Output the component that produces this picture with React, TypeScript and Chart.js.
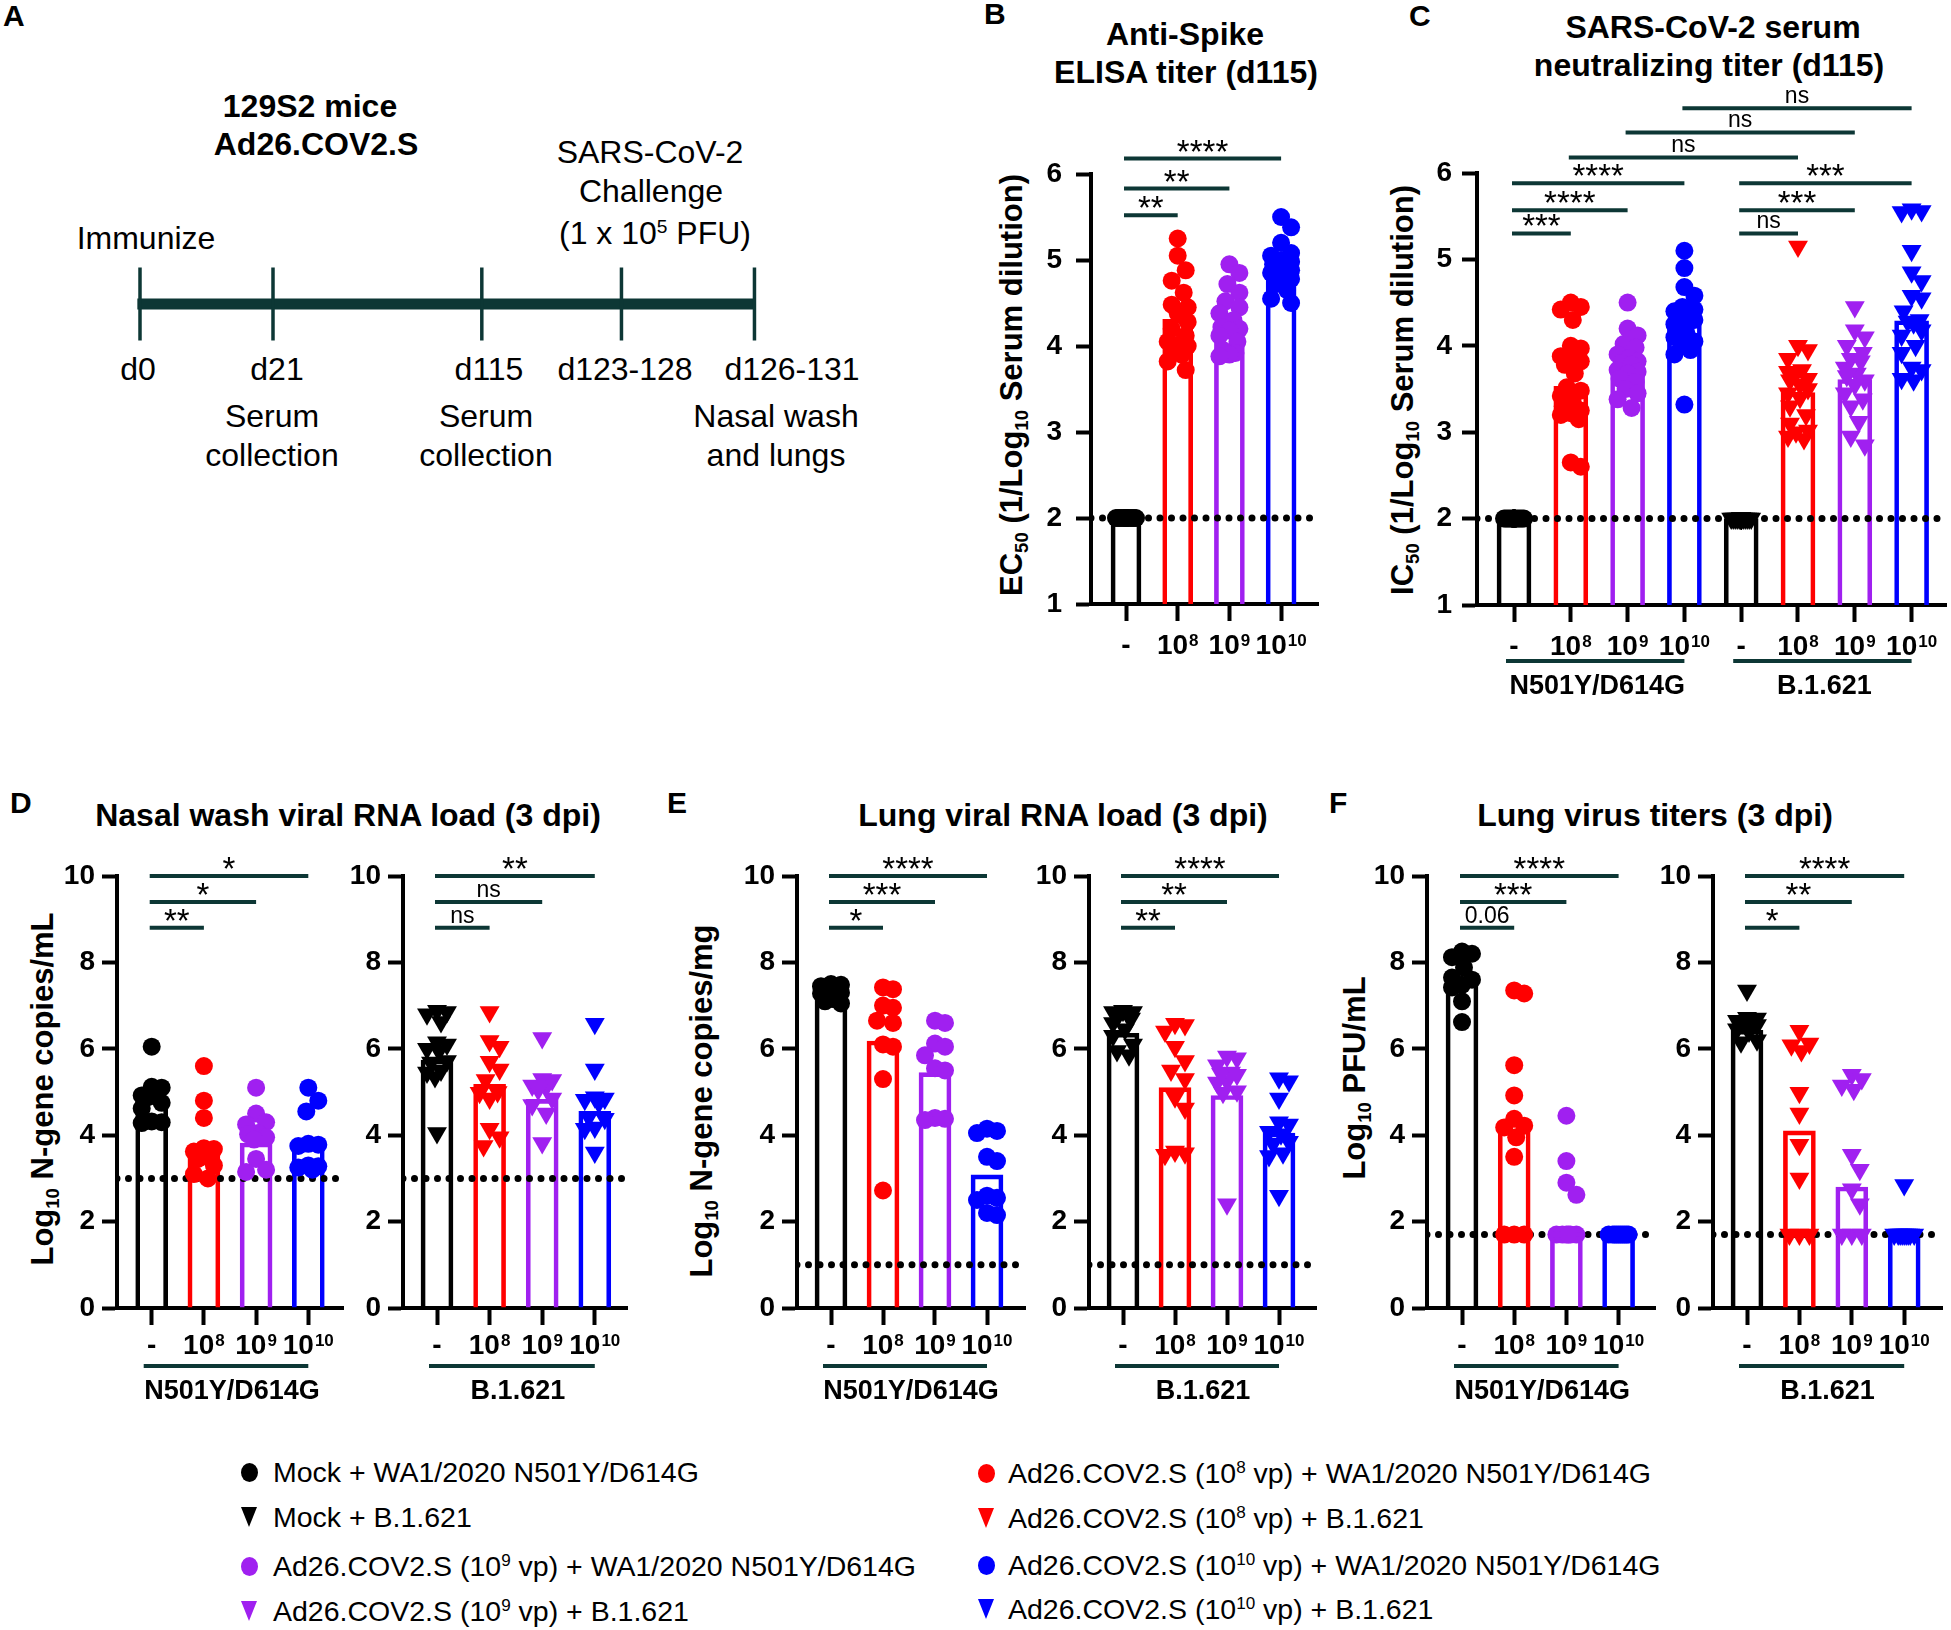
import React, { useEffect, useRef } from 'react';
import { Chart, registerables } from 'chart.js';

Chart.register(...registerables);

const FAM = "'Liberation Sans', Arial, Helvetica, sans-serif";
Chart.defaults.font.family = FAM;
const TEAL = '#0d3735';
const BLACK = '#000000';
const RED = '#ff0000';
const PURPLE = '#a020f0';
const BLUE = '#0000ff';
const GROUP_COLORS = [BLACK, RED, PURPLE, BLUE];

// ---------------- data ----------------
const doseTicks = ['-', '10^8', '10^9', '10^10'];
const variants = ['N501Y/D614G', 'B.1.621'];

// B: Anti-Spike ELISA titer (d115)
const elisaMock = [2, 2, 2, 2, 2, 2, 2, 2, 2, 2, 2, 2, 2, 2, 2, 2, 2, 2, 2, 2];
const elisa1e8 = [5.25, 5.05, 4.88, 4.76, 4.62, 4.48, 4.45, 4.38, 4.28, 4.2, 4.12, 4.05, 4.02, 4.0, 3.98, 3.9, 3.82, 3.72];
const elisa1e9 = [4.95, 4.85, 4.72, 4.62, 4.52, 4.45, 4.38, 4.3, 4.22, 4.2, 4.18, 4.12, 4.05, 3.95, 3.92, 3.9, 3.88];
const elisa1e10 = [5.5, 5.38, 5.2, 5.08, 5.05, 5.0, 4.98, 4.95, 4.92, 4.9, 4.88, 4.85, 4.82, 4.78, 4.72, 4.65, 4.55, 4.5];
const elisaBars = [2.0, 4.31, 4.28, 4.9];
const elisaLod = 2;
const elisaSig = ['**', '**', '****'];

// C: neutralizing titer (d115)
const neutN501Mock = [2, 2, 2, 2, 2, 2, 2, 2, 2, 2, 2, 2, 2, 2, 2, 2, 2, 2, 2, 2];
const neutN5011e8 = [4.5, 4.45, 4.42, 4.3, 4.0, 3.97, 3.88, 3.85, 3.82, 3.78, 3.68, 3.52, 3.48, 3.42, 3.35, 3.3, 3.25, 3.22, 3.2, 3.15, 2.65, 2.6];
const neutN5011e9 = [4.5, 4.2, 4.12, 4.02, 3.98, 3.9, 3.86, 3.82, 3.8, 3.78, 3.72, 3.7, 3.68, 3.62, 3.58, 3.5, 3.45, 3.38, 3.28];
const neutN5011e10 = [5.1, 4.9, 4.68, 4.58, 4.45, 4.42, 4.4, 4.38, 4.35, 4.3, 4.25, 4.15, 4.1, 4.05, 4.0, 3.95, 3.9, 3.32];
const neutB1621Mock = [2, 2, 2, 2, 2, 2, 2, 2, 2, 2, 2, 2, 2, 2, 2, 2, 2, 2, 2, 2];
const neutB16211e8 = [5.15, 4.0, 3.95, 3.85, 3.72, 3.7, 3.68, 3.62, 3.6, 3.55, 3.5, 3.45, 3.4, 3.3, 3.2, 3.1, 3.02, 3.0, 2.95, 2.92];
const neutB16211e9 = [4.45, 4.18, 4.1, 4.0, 3.92, 3.85, 3.82, 3.75, 3.68, 3.65, 3.6, 3.55, 3.45, 3.38, 3.3, 3.12, 2.95, 2.85];
const neutB16211e10 = [5.58, 5.56, 5.55, 5.1, 4.85, 4.75, 4.58, 4.55, 4.4, 4.3, 4.28, 4.26, 4.18, 4.12, 4.0, 3.92, 3.75, 3.72, 3.62, 3.6];
const neutBars = [2.0, 3.53, 3.74, 4.29, 2.0, 3.46, 3.61, 4.29];
const neutLod = 2;
const neutSigN501 = ['***', '****', '****'];
const neutSigCross = ['ns', 'ns', 'ns'];
const neutSigB1621 = ['ns', '***', '***'];

// D: Nasal wash viral RNA load (3 dpi)
const nasalN501Mock = [6.05, 5.12, 5.1, 4.92, 4.9, 4.88, 4.75, 4.62, 4.32, 4.3, 4.28];
const nasalN5011e8 = [5.6, 4.8, 4.4, 3.7, 3.68, 3.62, 3.5, 3.45, 3.3, 3.1, 3.0];
const nasalN5011e9 = [5.1, 4.5, 4.3, 4.25, 4.05, 4.02, 3.95, 3.9, 3.45, 3.2, 3.15];
const nasalN5011e10 = [5.1, 4.8, 4.55, 3.8, 3.78, 3.75, 3.3, 3.28, 3.25, 3.2];
const nasalN501Bars = [4.85, 3.6, 3.82, 3.77];
const nasalB1621Mock = [6.88, 6.85, 6.8, 6.62, 6.15, 6.1, 6.0, 5.95, 5.72, 5.68, 5.5, 5.45, 5.35, 4.05];
const nasalB16211e8 = [6.85, 6.18, 6.05, 5.7, 5.52, 5.28, 5.0, 4.98, 4.85, 4.15, 3.95, 3.75];
const nasalB16211e9 = [6.25, 5.3, 5.28, 5.15, 5.12, 5.05, 4.85, 4.7, 4.5, 3.82];
const nasalB16211e10 = [6.58, 5.52, 4.88, 4.85, 4.82, 4.75, 4.42, 4.38, 4.18, 4.15, 3.6];
const nasalB1621Bars = [5.74, 5.18, 4.83, 4.55];
const nasalLod = 3;
const nasalSigN501 = ['**', '*', '*'];
const nasalSigB1621 = ['ns', 'ns', '**'];

// E: Lung viral RNA load (3 dpi)
const lungN501Mock = [7.5, 7.48, 7.45, 7.4, 7.35, 7.3, 7.28, 7.15, 7.1, 7.05];
const lungN5011e8 = [7.42, 7.38, 7.0, 6.95, 6.65, 6.6, 6.1, 6.05, 5.3, 2.72];
const lungN5011e9 = [6.65, 6.6, 6.12, 6.05, 5.85, 5.55, 5.5, 4.4, 4.38, 4.35];
const lungN5011e10 = [4.15, 4.1, 4.05, 3.5, 3.4, 2.6, 2.55, 2.5, 2.2, 2.15];
const lungN501Bars = [7.31, 6.18, 5.45, 3.08];
const lungB1621Mock = [6.88, 6.85, 6.85, 6.82, 6.8, 6.7, 6.6, 6.45, 6.3, 6.1, 5.95, 5.85];
const lungB16211e8 = [6.58, 6.55, 6.4, 6.05, 5.72, 5.5, 5.3, 4.88, 4.62, 3.62, 3.58, 3.55];
const lungB16211e9 = [5.82, 5.78, 5.62, 5.45, 5.42, 5.4, 5.25, 5.22, 5.02, 4.98, 2.4];
const lungB16211e10 = [5.32, 5.25, 4.85, 4.3, 4.25, 4.08, 4.02, 3.85, 3.8, 3.58, 3.52, 2.6];
const lungB1621Bars = [6.36, 5.1, 4.92, 4.05];
const lungLod = 1;
const lungSigN501 = ['*', '***', '****'];
const lungSigB1621 = ['**', '**', '****'];

// F: Lung virus titers (3 dpi)
const pfuN501Mock = [8.25, 8.2, 8.12, 7.88, 7.65, 7.6, 7.48, 7.42, 7.1, 6.62];
const pfuN5011e8 = [7.35, 7.28, 5.62, 4.92, 4.38, 4.22, 4.18, 3.95, 3.5, 1.7, 1.7, 1.7];
const pfuN5011e9 = [4.45, 3.4, 2.9, 2.62, 1.7, 1.7, 1.7, 1.7, 1.7, 1.7];
const pfuN5011e10 = [1.7, 1.7, 1.7, 1.7, 1.7, 1.7, 1.7, 1.7, 1.7, 1.7];
const pfuN501Bars = [7.57, 4.14, 1.75, 1.7];
const pfuB1621Mock = [7.35, 6.72, 6.7, 6.65, 6.62, 6.6, 6.55, 6.45, 6.4, 6.2, 6.15];
const pfuB16211e8 = [6.42, 6.12, 6.08, 5.95, 4.98, 4.5, 3.78, 3.0, 1.7, 1.7, 1.7];
const pfuB16211e9 = [5.4, 5.3, 5.15, 5.05, 3.55, 3.2, 2.75, 2.4, 1.7, 1.7, 1.7];
const pfuB16211e10 = [2.85, 1.7, 1.7, 1.7, 1.7, 1.7, 1.7, 1.7, 1.7, 1.7];
const pfuB1621Bars = [6.43, 4.1, 2.8, 1.7];
const pfuLod = 1.7;
const pfuSigN501 = ['0.06', '***', '****'];
const pfuSigB1621 = ['*', '**', '****'];

// A: timeline
const timelineLabels = ['d0', 'd21', 'd115', 'd123-128', 'd126-131'];

// ---------------- layout ----------------
const Y_AXIS_W = 70;
const PAD_TOP = 125;
const PAD_RIGHT = 5;
const X_AXIS_H = 20;
const PAD_BOTTOM = 95;
const BR_B = [5.52, 5.83, 6.18];
const BR_C = [5.3, 5.57, 5.88];
const BR_C_CROSS = [6.18, 6.47, 6.75];
const BR_DEF = [8.8, 9.4, 10.0];

type Area = { left: number; top: number; right: number; bottom: number; cat0: number; step: number };
type Bracket = { from: number; to: number; y: number; label: string };
type GroupLine = { from: number; to: number; text: string };
type DotPlot = {
  area: Area;
  groups: number[][];
  means: number[];
  shapes: string[];
  colors: string[];
  yMin: number;
  yMax: number;
  yStep: number;
  lod: number;
  brackets: Bracket[];
  xLabels: string[];
  groupLines: GroupLine[];
  barW: number;
  tickPad: number;
  labelBase: number;
  groupLineOff: number;
  groupTextOff: number;
  groupTextShift: number;
};

function rectOf(a: Area) {
  return {
    x: a.left - Y_AXIS_W,
    y: a.top - PAD_TOP,
    w: a.right - a.left + Y_AXIS_W + PAD_RIGHT,
    h: a.bottom - a.top + PAD_TOP + X_AXIS_H + PAD_BOTTOM,
  };
}

// beeswarm-like horizontal spreading (pixel offsets), capped width
function swarm(values: number[], pxPerUnit: number, diam: number, maxHalf: number): number[] {
  const idx = values.map((_, i) => i).sort((a, b) => values[b] - values[a]);
  const cands: number[] = [0];
  for (let s = 2; s <= maxHalf + 1e-6; s += 2) cands.push(s, -s);
  const sep = diam * 0.88;
  const placed: { x: number; y: number }[] = [];
  const out = new Array(values.length).fill(0);
  for (const i of idx) {
    const y = values[i] * pxPerUnit;
    let best = 0;
    let bestScore = -Infinity;
    for (const c of cands) {
      let minD = Infinity;
      for (const p of placed) {
        const d = Math.hypot(c - p.x, y - p.y);
        if (d < minD) minD = d;
      }
      if (minD >= sep) {
        best = c;
        break;
      }
      if (minD > bestScore + 0.01) {
        bestScore = minD;
        best = c;
      }
    }
    placed.push({ x: best, y });
    out[i] = best;
  }
  return out;
}

function drawSup(ctx: CanvasRenderingContext2D, label: string, cx: number, baseline: number) {
  const [base, exp] = label.split('^');
  const size = 28;
  const supSize = 17;
  ctx.font = `bold ${size}px ${FAM}`;
  const w1 = ctx.measureText(base).width;
  let w2 = 0;
  if (exp) {
    ctx.font = `bold ${supSize}px ${FAM}`;
    w2 = ctx.measureText(exp).width + 1;
  }
  const x0 = cx - (w1 + w2) / 2;
  ctx.textAlign = 'left';
  ctx.textBaseline = 'alphabetic';
  ctx.font = `bold ${size}px ${FAM}`;
  ctx.fillText(base, x0, baseline);
  if (exp) {
    ctx.font = `bold ${supSize}px ${FAM}`;
    ctx.fillText(exp, x0 + w1 + 1, baseline - 8);
  }
}

const decoPlugin = {
  id: 'deco',
  afterDraw(chart: any, _args: any, o: any) {
    if (!o || !o.xLabels) return;
    const { ctx, chartArea } = chart;
    const xs = chart.scales.x;
    const ys = chart.scales.y;
    ctx.save();
    ctx.fillStyle = '#000';
    o.xLabels.forEach((lab: string, i: number) => drawSup(ctx, lab, xs.getPixelForValue(i), chartArea.bottom + o.labelBase));
    ctx.strokeStyle = TEAL;
    ctx.lineWidth = 4;
    ctx.lineCap = 'butt';
    o.groupLines.forEach((g: GroupLine) => {
      const x1 = xs.getPixelForValue(g.from) - 8;
      const x2 = xs.getPixelForValue(g.to);
      const yl = chartArea.bottom + o.groupLineOff;
      ctx.beginPath();
      ctx.moveTo(x1, yl);
      ctx.lineTo(x2, yl);
      ctx.stroke();
      ctx.font = `bold 27px ${FAM}`;
      ctx.textAlign = 'center';
      ctx.textBaseline = 'alphabetic';
      ctx.fillText(g.text, (x1 + x2) / 2 + o.groupTextShift, chartArea.bottom + o.groupTextOff);
    });
    o.brackets.forEach((b: Bracket) => {
      const x1 = xs.getPixelForValue(b.from) - 2;
      const x2 = xs.getPixelForValue(b.to);
      const y = ys.getPixelForValue(b.y);
      ctx.beginPath();
      ctx.moveTo(x1, y);
      ctx.lineTo(x2, y);
      ctx.stroke();
      const stars = /^\*+$/.test(b.label);
      ctx.font = stars ? `33px ${FAM}` : `23px ${FAM}`;
      ctx.textAlign = 'center';
      ctx.textBaseline = 'alphabetic';
      ctx.fillText(b.label, (x1 + x2) / 2, stars ? y + 4 : y - 5);
    });
    ctx.restore();
  },
};

function buildConfig(s: DotPlot) {
  const a = s.area;
  const xMin = (a.left - a.cat0) / a.step;
  const xMax = (a.right - a.cat0) / a.step;
  const pxPerUnit = (a.bottom - a.top) / (s.yMax - s.yMin);
  const datasets: any[] = [];
  s.groups.forEach((vals, i) => {
    const tri = s.shapes[i] === 'triangle';
    const offs = swarm(vals, pxPerUnit, tri ? 19 : 18, 11);
    datasets.push({
      type: 'scatter',
      data: vals.map((v, k) => ({ x: i + offs[k] / a.step, y: v })),
      pointStyle: tri ? 'triangle' : 'circle',
      pointRotation: tri ? 180 : 0,
      pointRadius: tri ? 11.5 : 9,
      pointHoverRadius: tri ? 11.5 : 9,
      pointBackgroundColor: s.colors[i],
      pointBorderColor: s.colors[i],
      pointBorderWidth: 0,
      clip: false,
      order: 1,
    });
  });
  datasets.push({
    type: 'line',
    data: [
      { x: xMin, y: s.lod },
      { x: xMax, y: s.lod },
    ],
    borderColor: '#000',
    borderWidth: 7,
    borderDash: [0, 11.5],
    borderCapStyle: 'round',
    pointRadius: 0,
    order: 2,
  });
  datasets.push({
    type: 'bar',
    data: s.means.map((m, i) => ({ x: i, y: [s.yMin, m] })),
    backgroundColor: 'rgba(255,255,255,0)',
    borderColor: s.colors,
    borderWidth: 4,
    borderSkipped: 'bottom',
    barThickness: s.barW,
    order: 3,
  });
  return {
    type: 'scatter',
    data: { datasets },
    plugins: [decoPlugin],
    options: {
      animation: false,
      responsive: false,
      maintainAspectRatio: false,
      devicePixelRatio: 1,
      events: [],
      layout: { autoPadding: false, padding: { left: 0, top: PAD_TOP, right: PAD_RIGHT, bottom: PAD_BOTTOM } },
      plugins: {
        legend: { display: false },
        tooltip: { enabled: false },
        deco: {
          xLabels: s.xLabels,
          groupLines: s.groupLines,
          brackets: s.brackets,
          labelBase: s.labelBase,
          groupLineOff: s.groupLineOff,
          groupTextOff: s.groupTextOff,
          groupTextShift: s.groupTextShift,
        },
      },
      scales: {
        x: {
          type: 'linear',
          min: xMin,
          max: xMax,
          offset: false,
          afterBuildTicks: (sc: any) => {
            sc.ticks = s.xLabels.map((_, i) => ({ value: i }));
          },
          afterFit: (sc: any) => {
            sc.height = X_AXIS_H;
          },
          ticks: { display: false },
          grid: { display: true, offset: false, drawOnChartArea: false, drawTicks: true, tickLength: 17, tickWidth: 4, tickColor: '#000' },
          border: { display: true, color: '#000', width: 4 },
        },
        y: {
          type: 'linear',
          min: s.yMin,
          max: s.yMax,
          beginAtZero: false,
          afterFit: (sc: any) => {
            sc.width = Y_AXIS_W;
          },
          ticks: { stepSize: s.yStep, color: '#000', padding: s.tickPad, font: { family: FAM, size: 28, weight: 'bold' } },
          grid: { display: true, drawOnChartArea: false, drawTicks: true, tickLength: 15, tickWidth: 4, tickColor: '#000' },
          border: { display: true, color: '#000', width: 4 },
        },
      },
    },
  };
}

const CIRC4 = ['circle', 'circle', 'circle', 'circle'];
const TRI4 = ['triangle', 'triangle', 'triangle', 'triangle'];

function sigBrackets(sig: string[], heights: number[], from: number): Bracket[] {
  return sig.map((t, k) => ({ from, to: from + k + 1, y: heights[k], label: t }));
}

const DEF_COMMON = {
  yMin: 0,
  yMax: 10,
  yStep: 2,
  barW: 32,
  tickPad: 7,
  labelBase: 46,
  groupLineOff: 58,
  groupTextOff: 91,
  groupTextShift: 6,
  xLabels: doseTicks,
};

const cfgB: DotPlot = {
  area: { left: 1091, top: 174, right: 1318, bottom: 604, cat0: 1126, step: 51.7 },
  groups: [elisaMock, elisa1e8, elisa1e9, elisa1e10],
  means: elisaBars,
  shapes: CIRC4,
  colors: GROUP_COLORS,
  yMin: 1,
  yMax: 6,
  yStep: 1,
  lod: elisaLod,
  brackets: sigBrackets(elisaSig, BR_B, 0),
  xLabels: doseTicks,
  groupLines: [],
  barW: 30,
  tickPad: 14,
  labelBase: 50,
  groupLineOff: 56,
  groupTextOff: 89,
  groupTextShift: 0,
};

const cfgC: DotPlot = {
  area: { left: 1477, top: 173, right: 1946, bottom: 605, cat0: 1514, step: 56.8 },
  groups: [neutN501Mock, neutN5011e8, neutN5011e9, neutN5011e10, neutB1621Mock, neutB16211e8, neutB16211e9, neutB16211e10],
  means: neutBars,
  shapes: [...CIRC4, ...TRI4],
  colors: [...GROUP_COLORS, ...GROUP_COLORS],
  yMin: 1,
  yMax: 6,
  yStep: 1,
  lod: neutLod,
  brackets: [
    ...sigBrackets(neutSigN501, BR_C, 0),
    ...neutSigCross.map((t, k) => ({ from: k + 1, to: k + 5, y: BR_C_CROSS[k], label: t })),
    ...sigBrackets(neutSigB1621, BR_C, 4),
  ],
  xLabels: [...doseTicks, ...doseTicks],
  groupLines: [
    { from: 0, to: 3, text: variants[0] },
    { from: 4, to: 7, text: variants[1] },
  ],
  barW: 34,
  tickPad: 10,
  labelBase: 50,
  groupLineOff: 56,
  groupTextOff: 89,
  groupTextShift: 2,
};

const cfgDL: DotPlot = {
  ...DEF_COMMON,
  area: { left: 117, top: 876, right: 343, bottom: 1308, cat0: 151.7, step: 52.2 },
  groups: [nasalN501Mock, nasalN5011e8, nasalN5011e9, nasalN5011e10],
  means: nasalN501Bars,
  shapes: CIRC4,
  colors: GROUP_COLORS,
  lod: nasalLod,
  brackets: sigBrackets(nasalSigN501, BR_DEF, 0),
  groupLines: [{ from: 0, to: 3, text: variants[0] }],
};
const cfgDR: DotPlot = {
  ...DEF_COMMON,
  area: { left: 403, top: 876, right: 627, bottom: 1308, cat0: 437, step: 52.6 },
  groups: [nasalB1621Mock, nasalB16211e8, nasalB16211e9, nasalB16211e10],
  means: nasalB1621Bars,
  shapes: TRI4,
  colors: GROUP_COLORS,
  lod: nasalLod,
  brackets: sigBrackets(nasalSigB1621, BR_DEF, 0),
  groupLines: [{ from: 0, to: 3, text: variants[1] }],
};
const cfgEL: DotPlot = {
  ...DEF_COMMON,
  area: { left: 797, top: 876, right: 1025, bottom: 1308, cat0: 831, step: 52 },
  groups: [lungN501Mock, lungN5011e8, lungN5011e9, lungN5011e10],
  means: lungN501Bars,
  shapes: CIRC4,
  colors: GROUP_COLORS,
  lod: lungLod,
  brackets: sigBrackets(lungSigN501, BR_DEF, 0),
  groupLines: [{ from: 0, to: 3, text: variants[0] }],
};
const cfgER: DotPlot = {
  ...DEF_COMMON,
  area: { left: 1089, top: 876, right: 1316, bottom: 1308, cat0: 1123, step: 52 },
  groups: [lungB1621Mock, lungB16211e8, lungB16211e9, lungB16211e10],
  means: lungB1621Bars,
  shapes: TRI4,
  colors: GROUP_COLORS,
  lod: lungLod,
  brackets: sigBrackets(lungSigB1621, BR_DEF, 0),
  groupLines: [{ from: 0, to: 3, text: variants[1] }],
};
const cfgFL: DotPlot = {
  ...DEF_COMMON,
  area: { left: 1427, top: 876, right: 1655, bottom: 1308, cat0: 1462, step: 52.2 },
  groups: [pfuN501Mock, pfuN5011e8, pfuN5011e9, pfuN5011e10],
  means: pfuN501Bars,
  shapes: CIRC4,
  colors: GROUP_COLORS,
  lod: pfuLod,
  brackets: sigBrackets(pfuSigN501, BR_DEF, 0),
  groupLines: [{ from: 0, to: 3, text: variants[0] }],
};
const cfgFR: DotPlot = {
  ...DEF_COMMON,
  area: { left: 1713, top: 876, right: 1942, bottom: 1308, cat0: 1747, step: 52.4 },
  groups: [pfuB1621Mock, pfuB16211e8, pfuB16211e9, pfuB16211e10],
  means: pfuB1621Bars,
  shapes: TRI4,
  colors: GROUP_COLORS,
  lod: pfuLod,
  brackets: sigBrackets(pfuSigB1621, BR_DEF, 0),
  groupLines: [{ from: 0, to: 3, text: variants[1] }],
};

function DotChart({ cfg }: { cfg: DotPlot }) {
  const ref = useRef<HTMLCanvasElement>(null);
  const r = rectOf(cfg.area);
  useEffect(() => {
    const chart = new Chart(ref.current as HTMLCanvasElement, buildConfig(cfg) as any);
    return () => chart.destroy();
  }, [cfg]);
  return <canvas ref={ref} width={r.w} height={r.h} style={{ position: 'absolute', left: r.x, top: r.y, width: r.w, height: r.h }} />;
}

// timeline (schematic spacing, not to scale)
const TL_SLOTS = [0, 1, 2.57, 3.62, 4.62];
const TL_X0 = 140;
const TL_PX = 133;
const TL_RECT = { x: 100, y: 254, w: 700, h: 100 };

function Timeline() {
  const ref = useRef<HTMLCanvasElement>(null);
  useEffect(() => {
    const xMin = (TL_RECT.x - TL_X0) / TL_PX;
    const xMax = (TL_RECT.x + TL_RECT.w - TL_X0) / TL_PX;
    const chart = new Chart(ref.current as HTMLCanvasElement, {
      type: 'scatter',
      data: {
        datasets: [
          {
            type: 'scatter',
            data: TL_SLOTS.map((s) => ({ x: s, y: 0 })),
            pointStyle: 'line',
            pointRotation: 90,
            pointRadius: 36.5,
            pointBorderColor: TEAL,
            pointBorderWidth: 3.5,
            clip: false,
            order: 1,
          } as any,
          {
            type: 'line',
            data: [
              { x: TL_SLOTS[0] - 0.02, y: 0 },
              { x: TL_SLOTS[TL_SLOTS.length - 1] + 0.01, y: 0 },
            ],
            borderColor: TEAL,
            borderWidth: 11,
            pointRadius: 0,
            clip: false,
            order: 2,
          } as any,
        ],
      },
      options: {
        animation: false,
        responsive: false,
        devicePixelRatio: 1,
        events: [],
        layout: { autoPadding: false, padding: 0 },
        plugins: { legend: { display: false }, tooltip: { enabled: false } },
        scales: {
          x: { type: 'linear', display: false, min: xMin, max: xMax },
          y: { type: 'linear', display: false, min: -1, max: 1 },
        },
      } as any,
    });
    return () => chart.destroy();
  }, []);
  return (
    <canvas
      ref={ref}
      width={TL_RECT.w}
      height={TL_RECT.h}
      style={{ position: 'absolute', left: TL_RECT.x, top: TL_RECT.y, width: TL_RECT.w, height: TL_RECT.h }}
    />
  );
}

// ---------------- text helpers ----------------
function T({ x, y, size, bold, align = 'center', children }: any) {
  const tx = align === 'center' ? '-50%' : align === 'right' ? '-100%' : '0';
  return (
    <div
      style={{
        position: 'absolute',
        left: x,
        top: y - 0.49 * size,
        fontSize: size,
        lineHeight: `${size}px`,
        fontWeight: bold ? 'bold' : 'normal',
        whiteSpace: 'nowrap',
        transform: `translateX(${tx})`,
      }}
    >
      {children}
    </div>
  );
}

function RotLabel({ x, y, children }: any) {
  return (
    <div style={{ position: 'absolute', left: x, top: y, width: 0, height: 0 }}>
      <div
        style={{
          position: 'absolute',
          left: 0,
          top: 0,
          transform: 'translate(-50%,-50%) rotate(-90deg)',
          whiteSpace: 'nowrap',
          fontSize: 31,
          lineHeight: '31px',
          fontWeight: 'bold',
        }}
      >
        {children}
      </div>
    </div>
  );
}

const Sub = ({ children }: any) => <span style={{ fontSize: '0.6em', position: 'relative', top: '0.3em' }}>{children}</span>;
const Sup = ({ children }: any) => <span style={{ fontSize: '0.6em', position: 'relative', top: '-0.6em' }}>{children}</span>;

// ---------------- legend ----------------
const legendEntries = [
  { col: 0, row: 0, color: BLACK, shape: 'circle', dose: '', challenge: 'WA1/2020 N501Y/D614G' },
  { col: 0, row: 1, color: BLACK, shape: 'triangle', dose: '', challenge: 'B.1.621' },
  { col: 0, row: 2, color: PURPLE, shape: 'circle', dose: '9', challenge: 'WA1/2020 N501Y/D614G' },
  { col: 0, row: 3, color: PURPLE, shape: 'triangle', dose: '9', challenge: 'B.1.621' },
  { col: 1, row: 0, color: RED, shape: 'circle', dose: '8', challenge: 'WA1/2020 N501Y/D614G' },
  { col: 1, row: 1, color: RED, shape: 'triangle', dose: '8', challenge: 'B.1.621' },
  { col: 1, row: 2, color: BLUE, shape: 'circle', dose: '10', challenge: 'WA1/2020 N501Y/D614G' },
  { col: 1, row: 3, color: BLUE, shape: 'triangle', dose: '10', challenge: 'B.1.621' },
];
const LEG_MARK_X = [249, 986];
const LEG_TEXT_X = [273, 1008];
const LEG_ROW_Y = [
  [1472, 1517, 1566, 1611],
  [1473, 1518, 1565, 1609],
];

function Legend() {
  return (
    <>
      {legendEntries.map((e, i) => {
        const mx = LEG_MARK_X[e.col];
        const my = LEG_ROW_Y[e.col][e.row];
        const marker =
          e.shape === 'circle' ? (
            <div
              key={`m${i}`}
              style={{ position: 'absolute', left: mx - 8.5, top: my - 9.5, width: 17, height: 19, borderRadius: '50%', background: e.color }}
            />
          ) : (
            <div
              key={`m${i}`}
              style={{
                position: 'absolute',
                left: mx - 8,
                top: my - 10,
                width: 0,
                height: 0,
                borderLeft: '8px solid transparent',
                borderRight: '8px solid transparent',
                borderTop: `20px solid ${e.color}`,
              }}
            />
          );
        return (
          <React.Fragment key={i}>
            {marker}
            <T x={LEG_TEXT_X[e.col]} y={my} size={28.5} align="left">
              {e.dose === '' ? (
                <>Mock + {e.challenge}</>
              ) : (
                <>
                  Ad26.COV2.S (10<Sup>{e.dose}</Sup> vp) + {e.challenge}
                </>
              )}
            </T>
          </React.Fragment>
        );
      })}
    </>
  );
}

const TL_LABEL_X = [138, 277, 489, 625, 792];

export default function App() {
  return (
    <div
      style={{
        position: 'absolute',
        left: 0,
        top: 0,
        width: 1951,
        height: 1630,
        overflow: 'hidden',
        background: '#ffffff',
        fontFamily: FAM,
        color: '#000',
      }}
    >
      {/* panel letters */}
      <T x={3} y={16} size={30} bold align="left">A</T>
      <T x={984} y={14} size={30} bold align="left">B</T>
      <T x={1409} y={16} size={30} bold align="left">C</T>
      <T x={10} y={803} size={30} bold align="left">D</T>
      <T x={667} y={803} size={30} bold align="left">E</T>
      <T x={1329} y={803} size={30} bold align="left">F</T>

      {/* Panel A texts */}
      <T x={310} y={106} size={32} bold>129S2 mice</T>
      <T x={316} y={144} size={32} bold>Ad26.COV2.S</T>
      <T x={146} y={238} size={32}>Immunize</T>
      <T x={650} y={152} size={32}>SARS-CoV-2</T>
      <T x={651} y={191} size={32}>Challenge</T>
      <T x={655} y={233} size={32}>
        (1 x 10<Sup>5</Sup> PFU)
      </T>
      {timelineLabels.map((l, i) => (
        <T key={l} x={TL_LABEL_X[i]} y={369} size={32}>
          {l}
        </T>
      ))}
      <T x={272} y={416} size={32}>Serum</T>
      <T x={272} y={455} size={32}>collection</T>
      <T x={486} y={416} size={32}>Serum</T>
      <T x={486} y={455} size={32}>collection</T>
      <T x={776} y={416} size={32}>Nasal wash</T>
      <T x={776} y={455} size={32}>and lungs</T>
      <Timeline />

      {/* titles */}
      <T x={1185} y={34} size={32} bold>Anti-Spike</T>
      <T x={1186} y={72} size={32} bold>ELISA titer (d115)</T>
      <T x={1713} y={27} size={32} bold>SARS-CoV-2 serum</T>
      <T x={1709} y={65} size={32} bold>neutralizing titer (d115)</T>
      <T x={348} y={815} size={32} bold>Nasal wash viral RNA load (3 dpi)</T>
      <T x={1063} y={815} size={32} bold>Lung viral RNA load (3 dpi)</T>
      <T x={1655} y={815} size={32} bold>Lung virus titers (3 dpi)</T>

      {/* y axis titles */}
      <RotLabel x={1013} y={385}>
        EC<Sub>50</Sub> (1/Log<Sub>10</Sub> Serum dilution)
      </RotLabel>
      <RotLabel x={1404} y={390}>
        IC<Sub>50</Sub> (1/Log<Sub>10</Sub> Serum dilution)
      </RotLabel>
      <RotLabel x={44} y={1089}>
        Log<Sub>10</Sub> N-gene copies/mL
      </RotLabel>
      <RotLabel x={703} y={1101}>
        Log<Sub>10</Sub> N-gene copies/mg
      </RotLabel>
      <RotLabel x={1356} y={1078}>
        Log<Sub>10</Sub> PFU/mL
      </RotLabel>

      <DotChart cfg={cfgB} />
      <DotChart cfg={cfgC} />
      <DotChart cfg={cfgDL} />
      <DotChart cfg={cfgDR} />
      <DotChart cfg={cfgEL} />
      <DotChart cfg={cfgER} />
      <DotChart cfg={cfgFL} />
      <DotChart cfg={cfgFR} />

      <Legend />
    </div>
  );
}
